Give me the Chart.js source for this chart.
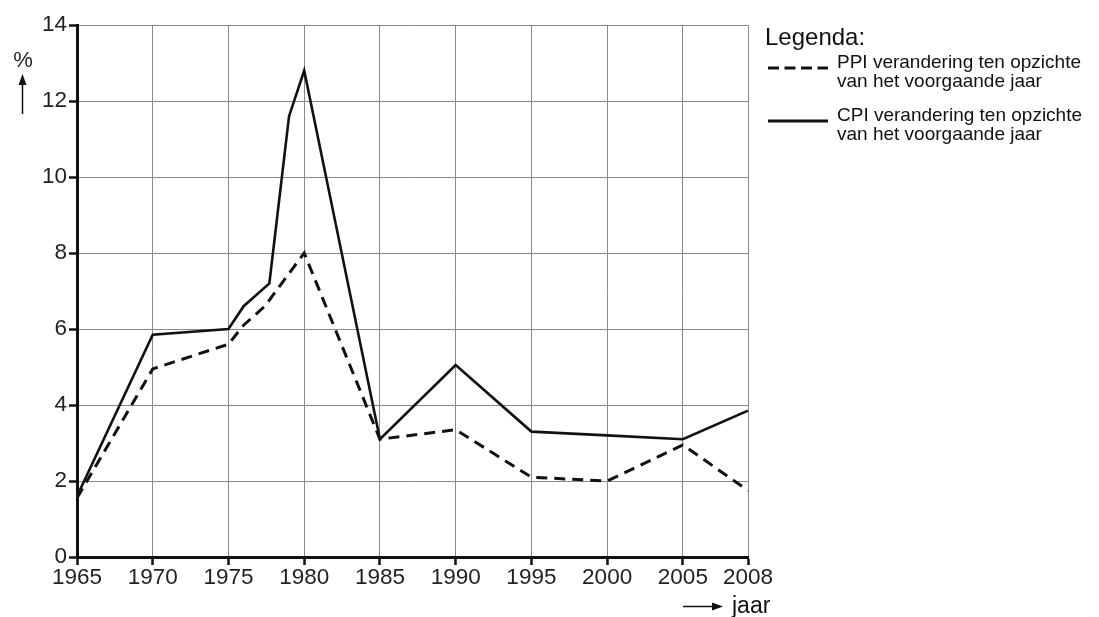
<!DOCTYPE html>
<html>
<head>
<meta charset="utf-8">
<script src="https://cdn.jsdelivr.net/npm/chart.js@4.4.0/dist/chart.umd.min.js"></script>
<style>
  html, body { margin: 0; padding: 0; background: #fff; }
  #wrap { width: 1099px; height: 617px; position: relative; }
</style>
</head>
<body>
<div id="wrap"><canvas id="chart" width="1099" height="617"></canvas></div>
<script>
// year labels on the x axis (2005 -> 2008 is squeezed into almost one full step)
const tickYears = [1965, 1970, 1975, 1980, 1985, 1990, 1995, 2000, 2005, 2008];

// CPI change vs previous year (solid)
const cpiYears  = [1965, 1970, 1975, 1976, 1977.7, 1979, 1980, 1985, 1990, 1995, 2000, 2005, 2008];
const cpiValues = [1.6, 5.85, 6.0, 6.6, 7.2, 11.6, 12.8, 3.1, 5.05, 3.3, 3.2, 3.1, 3.85];

// PPI change vs previous year (dashed)
const ppiYears  = [1965, 1970, 1975, 1976, 1977.4, 1980, 1985, 1990, 1995, 2000, 2005, 2008];
const ppiValues = [1.55, 4.95, 5.6, 6.1, 6.6, 8.0, 3.1, 3.35, 2.1, 2.0, 2.95, 1.75];

const legendLabels = [
  ["PPI verandering ten opzichte", "van het voorgaande jaar"],
  ["CPI verandering ten opzichte", "van het voorgaande jaar"]
];

// axis position of a year: 5 years per step, last 3 years drawn at ~0.86 step
function xPos(year) {
  if (year <= 2005) return (year - 1965) / 5;
  return 8 + (year - 2005) / 3 * 0.86;
}

const toPoints = (years, vals) => years.map((y, i) => ({ x: xPos(y), y: vals[i] }));

const FONT = '"Liberation Sans", Arial, sans-serif';
const TEXT = "#222";

const notes = {
  id: "notes",
  afterDraw(chart) {
    const ctx = chart.ctx;
    ctx.save();
    ctx.fillStyle = TEXT;
    ctx.strokeStyle = "#111";
    ctx.textBaseline = "alphabetic";

    // y axis unit + arrow
    ctx.font = "22px " + FONT;
    ctx.textAlign = "center";
    ctx.fillText("%", 23, 67);
    arrow(ctx, 22.5, 114, 22.5, 74);

    // x axis unit + arrow
    ctx.font = "23px " + FONT;
    ctx.textAlign = "left";
    ctx.fillText("jaar", 732, 613);
    arrow(ctx, 683, 606.5, 723, 606.5);

    // legend
    ctx.font = "24px " + FONT;
    ctx.fillText("Legenda:", 765, 45);
    ctx.font = "19px " + FONT;
    const rows = [68, 121];
    chart.data.datasets.forEach((ds, i) => {
      const y = rows[i];
      ctx.beginPath();
      ctx.lineWidth = 3;
      ctx.strokeStyle = ds.borderColor;
      ctx.setLineDash(i === 0 ? [11, 5.5] : []);
      ctx.moveTo(768, y);
      ctx.lineTo(828, y);
      ctx.stroke();
      ctx.setLineDash([]);
      ctx.fillText(legendLabels[i][0], 837, y);
      ctx.fillText(legendLabels[i][1], 837, y + 18.5);
    });
    ctx.restore();
  }
};

function arrow(ctx, x1, y1, x2, y2) {
  const a = Math.atan2(y2 - y1, x2 - x1);
  ctx.beginPath();
  ctx.lineWidth = 1.5;
  ctx.moveTo(x1, y1);
  ctx.lineTo(x2 - 6 * Math.cos(a), y2 - 6 * Math.sin(a));
  ctx.stroke();
  ctx.beginPath();
  ctx.moveTo(x2, y2);
  ctx.lineTo(x2 - 11 * Math.cos(a) + 4 * Math.sin(a), y2 - 11 * Math.sin(a) - 4 * Math.cos(a));
  ctx.lineTo(x2 - 11 * Math.cos(a) - 4 * Math.sin(a), y2 - 11 * Math.sin(a) + 4 * Math.cos(a));
  ctx.closePath();
  ctx.fillStyle = "#111";
  ctx.fill();
}

new Chart(document.getElementById("chart"), {
  type: "line",
  data: {
    datasets: [
      {
        label: "PPI",
        data: toPoints(ppiYears, ppiValues),
        borderColor: "#111",
        borderWidth: 3,
        borderDash: [11, 7],
        borderJoinStyle: "miter",
        pointRadius: 0,
        tension: 0,
        fill: false
      },
      {
        label: "CPI",
        data: toPoints(cpiYears, cpiValues),
        borderColor: "#111",
        borderWidth: 2.6,
        borderJoinStyle: "miter",
        pointRadius: 0,
        tension: 0,
        fill: false
      }
    ]
  },
  options: {
    responsive: false,
    animation: false,
    layout: { padding: { left: 0, top: 25, right: 351, bottom: 0 } },
    plugins: { legend: { display: false }, tooltip: { enabled: false } },
    scales: {
      x: {
        type: "linear",
        min: 0,
        max: xPos(2008),
        afterBuildTicks: (axis) => { axis.ticks = tickYears.map((y) => ({ value: xPos(y) })); },
        afterFit: (scale) => { scale.height = 60; },
        ticks: {
          autoSkip: false,
          maxRotation: 0,
          padding: -1,
          color: TEXT,
          font: { family: FONT, size: 22.5 },
          callback: (v, i) => tickYears[i]
        },
        grid: { color: "#8a8a8a", lineWidth: 1, tickColor: "#111", tickLength: 8, tickWidth: 2.5 },
        border: { display: true, color: "#111", width: 3 }
      },
      y: {
        min: 0,
        max: 14,
        afterFit: (scale) => { scale.width = 77; },
        ticks: {
          stepSize: 2,
          padding: 2,
          color: TEXT,
          font: { family: FONT, size: 22.5 }
        },
        grid: { color: "#8a8a8a", lineWidth: 1, tickColor: "#111", tickLength: 8, tickWidth: 2.5 },
        border: { display: true, color: "#111", width: 3 }
      }
    }
  },
  plugins: [notes]
});
</script>
</body>
</html>
